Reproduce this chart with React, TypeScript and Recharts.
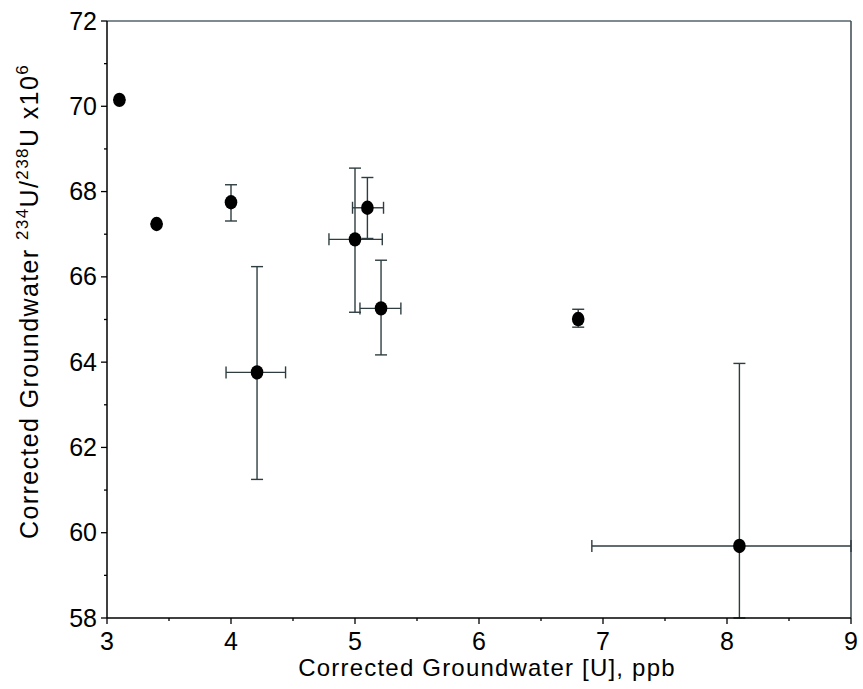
import React from 'react';
import { ScatterChart, Scatter, XAxis, YAxis, ErrorBar, ReferenceLine, Customized } from 'recharts';

const xValues = [3.1, 3.4, 4.0, 4.21, 5.0, 5.1, 5.21, 6.8, 8.1];
const yValues = [70.15, 67.24, 67.75, 63.76, 66.88, 67.62, 65.26, 65.01, 59.69];
const yErrLow = [0, 0, 0.44, 2.51, 1.71, 0.72, 1.09, 0.19, 1.69];
const yErrHigh = [0, 0, 0.41, 2.48, 1.67, 0.71, 1.13, 0.23, 4.28];
const xErrLow = [0, 0, 0, 0.25, 0.21, 0.12, 0.17, 0, 1.19];
const xErrHigh = [0, 0, 0, 0.23, 0.22, 0.13, 0.16, 0, 0.9];

const xTicks = [3, 3.5, 4, 4.5, 5, 5.5, 6, 6.5, 7, 7.5, 8, 8.5, 9];
const yTicks = [58, 59, 60, 61, 62, 63, 64, 65, 66, 67, 68, 69, 70, 71, 72];

const data = xValues.map((x, i) => ({
  x,
  y: yValues[i],
  ex: [xErrLow[i], xErrHigh[i]],
  ey: [yErrLow[i], yErrHigh[i]],
}));

const FONT = "'Liberation Sans', Arial, Helvetica, sans-serif";

const YTick = (props: any) => {
  const { x, y, payload } = props;
  const v = payload.value;
  const major = v % 2 === 0;
  return (
    <g>
      <line x1={x} x2={x - (major ? 6 : 3)} y1={y} y2={y} stroke="#000" strokeWidth={1.3} />
      {major && (
        <text x={x - 10} y={y + 8.5} textAnchor="end" fontSize={25} fontFamily={FONT} fill="#000">
          {v}
        </text>
      )}
    </g>
  );
};

const XTick = (props: any) => {
  const { x, y, payload } = props;
  const v = payload.value;
  const major = Number.isInteger(v);
  return (
    <g>
      <line x1={x} x2={x} y1={y} y2={y + (major ? 6 : 3)} stroke="#000" strokeWidth={1.3} />
      {major && (
        <text x={x} y={y + 32} textAnchor="middle" fontSize={25} fontFamily={FONT} fill="#000">
          {v}
        </text>
      )}
    </g>
  );
};

const Marker = (props: any) => {
  const { cx, cy } = props;
  return <ellipse cx={cx} cy={cy} rx={6.3} ry={7.2} fill="#000" />;
};

const Labels = () => (
  <g>
    <text x={487} y={676} textAnchor="middle" fontSize={24} letterSpacing={1.2} fontFamily={FONT} fill="#000">
      Corrected Groundwater [U], ppb
    </text>
    <text
      transform="translate(38,301.5) rotate(-90)"
      x={0}
      y={0}
      textAnchor="middle"
      fontSize={25}
      letterSpacing={1.4}
      fontFamily={FONT}
      fill="#000"
    >
      Corrected Groundwater <tspan fontSize={17} dy={-10}>234</tspan>
      <tspan dy={10}>U/</tspan>
      <tspan fontSize={17} dy={-10}>238</tspan>
      <tspan dy={10}>U x10</tspan>
      <tspan fontSize={17} dy={-10}>6</tspan>
    </text>
  </g>
);

export default function App() {
  return (
    <div style={{ position: 'absolute', left: 0, top: 0, background: '#fff' }}>
      <ScatterChart width={863} height={689} margin={{ top: 21, right: 12, bottom: 0, left: 0 }}>
        <XAxis
          type="number"
          dataKey="x"
          domain={[3, 9]}
          ticks={xTicks}
          interval={0}
          allowDataOverflow
          height={71}
          tickSize={0}
          tickMargin={0}
          tick={<XTick />}
          axisLine={{ stroke: '#000', strokeWidth: 1.5 }}
        />
        <YAxis
          type="number"
          dataKey="y"
          domain={[58, 72]}
          ticks={yTicks}
          interval={0}
          allowDataOverflow
          width={107}
          tickSize={0}
          tickMargin={0}
          tick={<YTick />}
          axisLine={{ stroke: '#000', strokeWidth: 1.5 }}
        />
        <ReferenceLine y={72} stroke="#55656b" strokeWidth={1.5} />
        <ReferenceLine x={9} stroke="#3c4a4f" strokeWidth={1.5} />
        <Scatter data={data} shape={<Marker />} isAnimationActive={false}>
          <ErrorBar dataKey="ex" direction="x" width={6} stroke="#2f3d40" strokeWidth={1.4} />
          <ErrorBar dataKey="ey" direction="y" width={6} stroke="#2f3d40" strokeWidth={1.4} />
        </Scatter>
        <Customized component={<Labels />} />
      </ScatterChart>
    </div>
  );
}
